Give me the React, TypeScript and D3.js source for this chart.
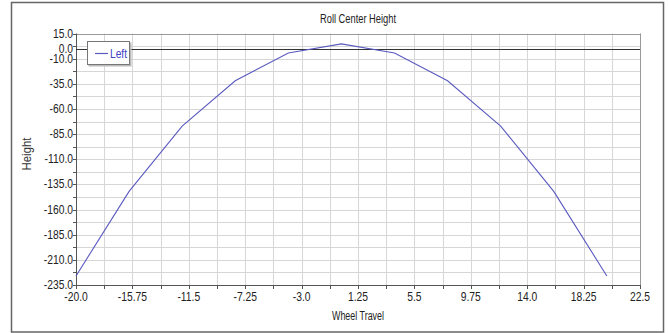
import React, {useEffect, useRef} from 'react'
import * as d3 from 'd3'

const width = 668
const height = 333
const plot = {left: 76, right: 640, top: 33.5, bottom: 285}

// wheel travel (x) and roll center height (y) for the "Left" series
const wheelTravel = [-20, -16, -12, -8, -4, 0, 4, 8, 12, 16, 20]
const rollCenter = [-226, -142, -77, -32, -4.3, 4.7, -4.3, -32, -77, -142, -226]

const xTickLabels = ['-20.0', '-15.75', '-11.5', '-7.25', '-3.0', '1.25', '5.5', '9.75', '14.0', '18.25', '22.5']
const yTickLabels = ['15.0', '-10.0', '-35.0', '-60.0', '-85.0', '-110.0', '-135.0', '-160.0', '-185.0', '-210.0', '-235.0']

const fontFamily = '"Liberation Sans", Arial, sans-serif'

const App = () => {
  const ref = useRef<SVGSVGElement | null>(null)

  useEffect(() => {
    const svg = d3.select(ref.current)
    svg.selectAll('*').remove()

    const x = d3.scaleLinear().domain([-20, 22.5]).range([plot.left, plot.right])
    const y = d3.scaleLinear().domain([-235, 15]).range([plot.bottom, plot.top])

    svg.append('rect').attr('width', width).attr('height', height).attr('fill', '#fff')
    svg.append('rect')
      .attr('x', 11.5).attr('y', 2.5).attr('width', 652).attr('height', 329.5)
      .attr('fill', 'none').attr('stroke', '#666').attr('stroke-width', 1.5)

    const xGrid = d3.range(0, 21).map(i => -20 + i * 2.125)
    const yGrid = d3.range(0, 21).map(i => 15 - i * 12.5)

    const g = svg.append('g')
    g.selectAll('.vg').data(xGrid).enter().append('line')
      .attr('x1', d => Math.round(x(d)) + 0.5).attr('x2', d => Math.round(x(d)) + 0.5)
      .attr('y1', plot.top).attr('y2', plot.bottom)
      .attr('stroke', '#d6d6d6').attr('stroke-width', 1)
    g.selectAll('.hg').data(yGrid).enter().append('line')
      .attr('y1', d => Math.round(y(d)) + 0.5).attr('y2', d => Math.round(y(d)) + 0.5)
      .attr('x1', plot.left).attr('x2', plot.right)
      .attr('stroke', '#d6d6d6').attr('stroke-width', 1)

    // plot frame
    g.append('line').attr('x1', plot.left).attr('x2', plot.right)
      .attr('y1', Math.round(plot.top) + 0.5).attr('y2', Math.round(plot.top) + 0.5)
      .attr('stroke', '#999')
    g.append('line').attr('x1', plot.right + 0.5).attr('x2', plot.right + 0.5)
      .attr('y1', plot.top).attr('y2', plot.bottom)
      .attr('stroke', '#999')
    g.append('line').attr('x1', plot.left + 0.5).attr('x2', plot.left + 0.5)
      .attr('y1', plot.top).attr('y2', plot.bottom + 0.5)
      .attr('stroke', '#555')
    g.append('line').attr('x1', plot.left).attr('x2', plot.right + 1)
      .attr('y1', plot.bottom + 0.5).attr('y2', plot.bottom + 0.5)
      .attr('stroke', '#555')

    // zero line
    g.append('line').attr('x1', plot.left).attr('x2', plot.right)
      .attr('y1', Math.round(y(0)) + 0.5).attr('y2', Math.round(y(0)) + 0.5)
      .attr('stroke', '#333').attr('stroke-width', 1.2)

    // ticks
    g.selectAll('.xt').data(xGrid).enter().append('line')
      .attr('x1', d => Math.round(x(d)) + 0.5).attr('x2', d => Math.round(x(d)) + 0.5)
      .attr('y1', plot.bottom).attr('y2', plot.bottom + 4)
      .attr('stroke', '#555')
    g.selectAll('.yt').data(yGrid).enter().append('line')
      .attr('y1', d => Math.round(y(d)) + 0.5).attr('y2', d => Math.round(y(d)) + 0.5)
      .attr('x1', plot.left - 3).attr('x2', plot.left)
      .attr('stroke', '#555')

    const labelScale = 0.86
    xTickLabels.forEach((t, i) => {
      g.append('text')
        .attr('transform', `translate(${x(-20 + i * 4.25)},${plot.bottom + 16}) scale(${labelScale},1)`)
        .attr('text-anchor', 'middle')
        .attr('font-family', fontFamily).attr('font-size', 12).attr('fill', '#222')
        .text(t)
    })
    yTickLabels.forEach((t, i) => {
      g.append('text')
        .attr('transform', `translate(${plot.left - 3},${y(15 - i * 25) + 4}) scale(${labelScale},1)`)
        .attr('text-anchor', 'end')
        .attr('font-family', fontFamily).attr('font-size', 12).attr('fill', '#222')
        .text(t)
    })
    g.append('text')
      .attr('transform', `translate(${plot.left - 3},${y(0) + 4}) scale(${labelScale},1)`)
      .attr('text-anchor', 'end')
      .attr('font-family', fontFamily).attr('font-size', 12).attr('fill', '#222')
      .text('0.0')

    // series
    const line = d3.line<number>()
      .x((d, i) => x(wheelTravel[i]))
      .y(d => y(d))
    g.append('path').datum(rollCenter)
      .attr('d', line)
      .attr('fill', 'none').attr('stroke', '#5a5ac0').attr('stroke-width', 1.1)

    // titles
    svg.append('text')
      .attr('x', 358).attr('y', 23).attr('text-anchor', 'middle')
      .attr('font-family', fontFamily).attr('font-size', 12).attr('fill', '#222')
      .attr('textLength', 76).attr('lengthAdjust', 'spacingAndGlyphs')
      .text('Roll Center Height')
    svg.append('text')
      .attr('x', 358).attr('y', 320).attr('text-anchor', 'middle')
      .attr('font-family', fontFamily).attr('font-size', 12).attr('fill', '#222')
      .attr('textLength', 52).attr('lengthAdjust', 'spacingAndGlyphs')
      .text('Wheel Travel')
    svg.append('text')
      .attr('transform', 'translate(31,154) rotate(-90)')
      .attr('text-anchor', 'middle')
      .attr('font-family', fontFamily).attr('font-size', 12).attr('fill', '#333')
      .attr('textLength', 33).attr('lengthAdjust', 'spacingAndGlyphs')
      .text('Height')

    // legend
    const lg = svg.append('g')
    lg.append('rect')
      .attr('x', 88.5).attr('y', 42.5).attr('width', 43).attr('height', 24)
      .attr('fill', '#bbb')
    lg.append('rect')
      .attr('x', 87.5).attr('y', 41.5).attr('width', 42).attr('height', 23)
      .attr('fill', '#fff').attr('stroke', '#777')
    lg.append('line')
      .attr('x1', 95).attr('x2', 108).attr('y1', 53.5).attr('y2', 53.5)
      .attr('stroke', '#5a5ac0').attr('stroke-width', 1.2)
    lg.append('text')
      .attr('x', 110).attr('y', 58)
      .attr('font-family', fontFamily).attr('font-size', 12).attr('fill', '#4040c8')
      .attr('textLength', 17).attr('lengthAdjust', 'spacingAndGlyphs')
      .text('Left')
  }, [])

  return (
    <div style={{position: 'absolute', left: 0, top: 0}}>
      <svg ref={ref} width={width} height={height}></svg>
    </div>
  )
}

export default App
